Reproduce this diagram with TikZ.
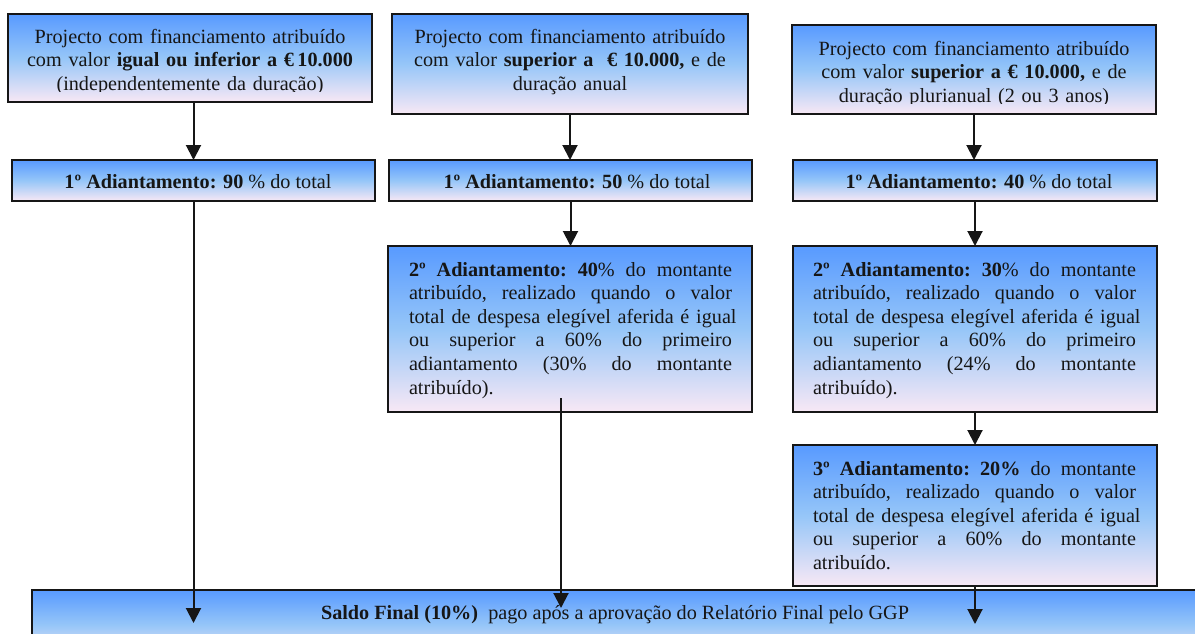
\documentclass[tikz,border=0pt]{standalone}
\usepackage{fontspec}
\setmainfont{Liberation Serif}
\usetikzlibrary{arrows.meta}
\definecolor{boxtop}{RGB}{88,154,255}
\definecolor{boxmid}{RGB}{150,198,248}
\definecolor{boxbot}{RGB}{248,232,245}
\definecolor{ink}{RGB}{22,22,22}
\tikzset{
  fbox/.style={draw=ink, line width=2pt, top color=boxtop, bottom color=boxbot, middle color=boxmid,
    anchor=north west, inner sep=0pt, outer sep=0pt},
  txt/.style={font=\fontsize{20.2}{23.6}\selectfont, text=ink, inner sep=0pt, outer sep=0pt, anchor=base},
  arr/.style={draw=ink, line width=2pt, -{Triangle[width=15pt,length=15pt]}},
}
\newcommand{\jl}[1]{\leavevmode\hbox to 323pt{#1}}
\newcommand{\gp}{\hfill\ }
\begin{document}
\begin{tikzpicture}[x=1pt,y=-1pt]
\useasboundingbox (0,0) rectangle (1195,633);
\clip (0,0) rectangle (1195,633);
% boxes
\node[fbox, minimum width=364pt, minimum height=88pt] (pa) at (8,14) {};
\node[fbox, minimum width=356pt, minimum height=100pt] (pb) at (392,14) {};
\node[fbox, minimum width=364pt, minimum height=89pt] (pc) at (792,25) {};
\node[fbox, minimum width=363pt, minimum height=41pt] (pa1) at (12,160) {};
\node[fbox, minimum width=363pt, minimum height=41pt] (pb1) at (389,160) {};
\node[fbox, minimum width=364pt, minimum height=41pt] (pc1) at (793,160) {};
\node[fbox, minimum width=364pt, minimum height=166pt] (pb2) at (388,246) {};
\node[fbox, minimum width=364pt, minimum height=166pt] (pc2) at (793,246) {};
\node[fbox, minimum width=364pt, minimum height=141pt] (pc3) at (793,445) {};
\node[fbox, minimum width=1180pt, minimum height=70pt] (pbot) at (32,590) {};
% top texts
\begin{scope}
\clip (pa.north west) rectangle ([yshift=11pt]pa.south east);
\node[txt, text width=364pt, align=center] (ta) at (190,43)
  {Projecto com financiamento atribuído\\ com valor \textbf{igual ou inferior a €\,10.000}\\ (independentemente da duração)};
\end{scope}
\node[txt, text width=356pt, align=center] (tb) at (570,43)
  {Projecto com financiamento atribuído\\ com valor \textbf{superior a \ € 10.000,} e de\\ duração anual};
\begin{scope}
\clip (pc.north west) rectangle ([yshift=11pt]pc.south east);
\node[txt, text width=364pt, align=center] (tc) at (974,55)
  {Projecto com financiamento atribuído\\ com valor \textbf{superior a € 10.000,} e de\\ duração plurianual (2 ou 3 anos)};
\end{scope}
% first advances
\node[txt] (ta1) at (198,188) {\textbf{1º Adiantamento: 90} \% do total};
\node[txt] (tb1) at (577,188) {\textbf{1º Adiantamento: 50} \% do total};
\node[txt] (tc1) at (979,188) {\textbf{1º Adiantamento: 40} \% do total};
% second / third advances
\node[txt, anchor=base west, text width=323pt, align=left] (tb2) at (409,276)
  {\jl{\textbf{2º\gp Adiantamento:\gp 40}\%\gp do\gp montante}\\
   \jl{atribuído,\gp realizado\gp quando\gp o\gp valor}\\
   \jl{total\gp de\gp despesa\gp elegível\gp aferida\gp é\gp igual}\\
   \jl{ou\gp superior\gp a\gp 60\%\gp do\gp primeiro}\\
   \jl{adiantamento\gp (30\%\gp do\gp montante}\\
   atribuído).};
\node[txt, anchor=base west, text width=323pt, align=left] (tc2) at (813,276)
  {\jl{\textbf{2º\gp Adiantamento:\gp 30}\%\gp do\gp montante}\\
   \jl{atribuído,\gp realizado\gp quando\gp o\gp valor}\\
   \jl{total\gp de\gp despesa\gp elegível\gp aferida\gp é\gp igual}\\
   \jl{ou\gp superior\gp a\gp 60\%\gp do\gp primeiro}\\
   \jl{adiantamento\gp (24\%\gp do\gp montante}\\
   atribuído).};
\node[txt, anchor=base west, text width=323pt, align=left] (tc3) at (813,475)
  {\jl{\textbf{3º\gp Adiantamento:\gp 20\%}\gp do\gp montante}\\
   \jl{atribuído,\gp realizado\gp quando\gp o\gp valor}\\
   \jl{total\gp de\gp despesa\gp elegível\gp aferida\gp é\gp igual}\\
   \jl{ou\gp superior\gp a\gp 60\%\gp do\gp montante}\\
   atribuído.};
\node[txt] (tbot) at (615,619) {\textbf{Saldo Final (10\%)}\ \ pago após a aprovação do Relatório Final pelo GGP};
% connectors
\coordinate (tipa) at (193,623);
\coordinate (bstart) at (561,398);
\coordinate (btip) at (561,608);
\coordinate (tipc) at (975,624);
\draw[arr] (pa.south -| pa1.north) -- (pa1.north);
\draw[arr] (pb.south) -- (pb.south |- pb1.north);
\draw[arr] (pc.south) -- (pc.south |- pc1.north);
\draw[arr] (pb1.south) -- (pb1.south |- pb2.north);
\draw[arr] (pc1.south) -- (pc1.south |- pc2.north);
\draw[arr] (pc2.south) -- (pc2.south |- pc3.north);
\draw[arr] (pa1.south) -- (pa1.south |- tipa);
\draw[arr] (bstart) -- (btip);
\draw[arr] (pc3.south) -- (pc3.south |- tipc);
\end{tikzpicture}
\end{document}
